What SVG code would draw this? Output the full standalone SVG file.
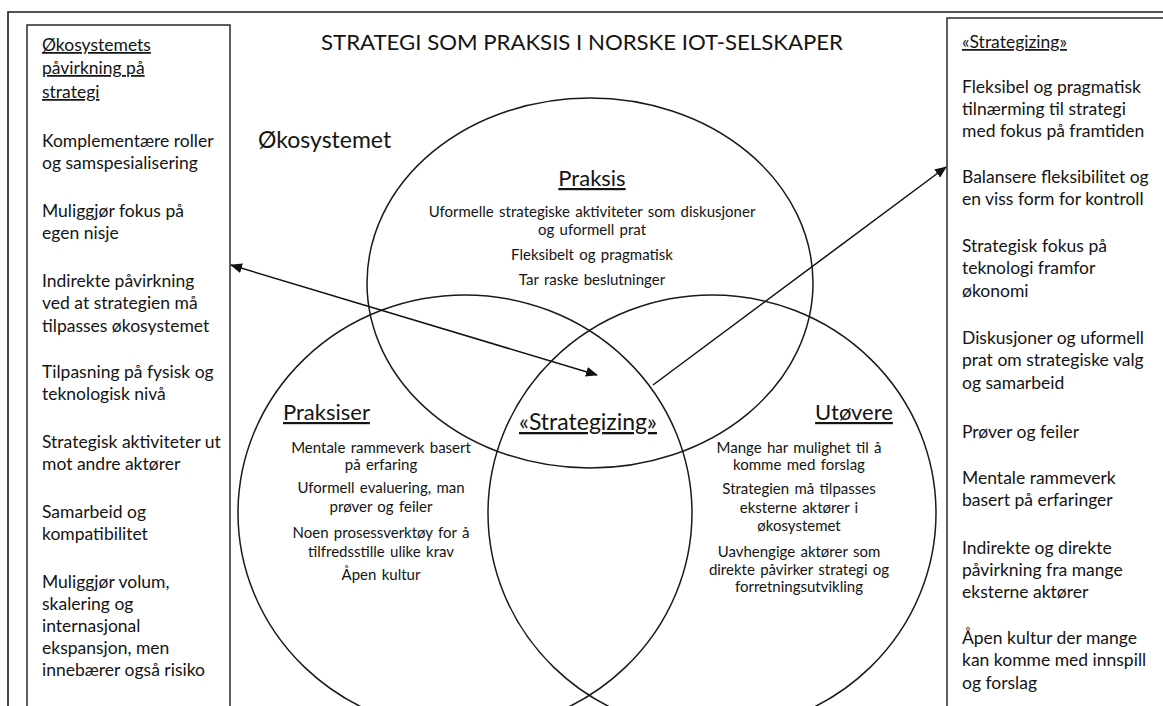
<svg xmlns="http://www.w3.org/2000/svg" width="1163" height="706" viewBox="0 0 1163 706">
<style>
text{font-family:Lato,"Liberation Sans",sans-serif;fill:#141414}
.frame{fill:none;stroke:#1a1a1a;stroke-width:1.6}
.box{fill:none;stroke:#1a1a1a;stroke-width:1.4}
.circ{fill:none;stroke:#1a1a1a;stroke-width:1.5}
.bt{font-size:17.5px}
.ct{font-size:15px;text-anchor:middle;word-spacing:1.5px}
.hd{font-size:22px;text-decoration:underline}
.u{text-decoration:underline}
.conn{stroke:#111;stroke-width:1.5;fill:none}
</style>
<defs>
<marker id="ah" viewBox="0 0 12 10" refX="11" refY="5" markerWidth="12" markerHeight="10" markerUnits="userSpaceOnUse" orient="auto-start-reverse">
<path d="M0,0 L12,5 L0,10 z" fill="#111"/>
</marker>
</defs>
<rect width="1163" height="706" fill="#fff"/>
<path class="frame" d="M8,720 L8,12 L1175,12"/>

<text x="582" y="50" font-size="21" text-anchor="middle" textLength="522" lengthAdjust="spacingAndGlyphs">STRATEGI SOM PRAKSIS I NORSKE IOT-SELSKAPER</text>
<text x="258" y="148" font-size="23">Økosystemet</text>

<g id="left-box">
<rect class="box" x="27" y="25" width="203" height="700"/>
<text class="bt u" x="42" y="51">Økosystemets</text>
<text class="bt u" x="42" y="74">påvirkning på</text>
<text class="bt u" x="42" y="98">strategi</text>
<text class="bt" x="42" y="147">Komplementære roller</text>
<text class="bt" x="42" y="169">og samspesialisering</text>
<text class="bt" x="42" y="217">Muliggjør fokus på</text>
<text class="bt" x="42" y="239">egen nisje</text>
<text class="bt" x="42" y="287">Indirekte påvirkning</text>
<text class="bt" x="42" y="309">ved at strategien må</text>
<text class="bt" x="42" y="332">tilpasses økosystemet</text>
<text class="bt" x="42" y="378">Tilpasning på fysisk og</text>
<text class="bt" x="42" y="400">teknologisk nivå</text>
<text class="bt" x="42" y="448">Strategisk aktiviteter ut</text>
<text class="bt" x="42" y="470">mot andre aktører</text>
<text class="bt" x="42" y="518">Samarbeid og</text>
<text class="bt" x="42" y="540">kompatibilitet</text>
<text class="bt" x="42" y="588">Muliggjør volum,</text>
<text class="bt" x="42" y="610">skalering og</text>
<text class="bt" x="42" y="632">internasjonal</text>
<text class="bt" x="42" y="654">ekspansjon, men</text>
<text class="bt" x="42" y="676">innebærer også risiko</text>
</g>

<g id="right-box">
<rect class="box" x="947" y="18" width="240" height="710"/>
<text class="bt u" x="962" y="48">«Strategizing»</text>
<text class="bt" x="962" y="93">Fleksibel og pragmatisk</text>
<text class="bt" x="962" y="115">tilnærming til strategi</text>
<text class="bt" x="962" y="137">med fokus på framtiden</text>
<text class="bt" x="962" y="183">Balansere fleksibilitet og</text>
<text class="bt" x="962" y="205">en viss form for kontroll</text>
<text class="bt" x="962" y="252">Strategisk fokus på</text>
<text class="bt" x="962" y="274">teknologi framfor</text>
<text class="bt" x="962" y="297">økonomi</text>
<text class="bt" x="962" y="344">Diskusjoner og uformell</text>
<text class="bt" x="962" y="366">prat om strategiske valg</text>
<text class="bt" x="962" y="389">og samarbeid</text>
<text class="bt" x="962" y="438">Prøver og feiler</text>
<text class="bt" x="962" y="484">Mentale rammeverk</text>
<text class="bt" x="962" y="506">basert på erfaringer</text>
<text class="bt" x="962" y="554">Indirekte og direkte</text>
<text class="bt" x="962" y="576">påvirkning fra mange</text>
<text class="bt" x="962" y="598">eksterne aktører</text>
<text class="bt" x="962" y="644">Åpen kultur der mange</text>
<text class="bt" x="962" y="666">kan komme med innspill</text>
<text class="bt" x="962" y="689">og forslag</text>
</g>

<g id="praksis">
<ellipse class="circ" cx="590" cy="283" rx="223" ry="185"/>
<text class="hd" x="592" y="186" text-anchor="middle">Praksis</text>
<text class="ct" x="592" y="217">Uformelle strategiske aktiviteter som diskusjoner</text>
<text class="ct" x="592" y="235">og uformell prat</text>
<text class="ct" x="592" y="260">Fleksibelt og pragmatisk</text>
<text class="ct" x="592" y="285">Tar raske beslutninger</text>
</g>

<g id="praksiser">
<ellipse class="circ" cx="465" cy="513" rx="227" ry="218"/>
<text class="hd" x="283" y="420">Praksiser</text>
<text class="ct" x="381" y="453">Mentale rammeverk basert</text>
<text class="ct" x="381" y="470">på erfaring</text>
<text class="ct" x="381" y="493">Uformell evaluering, man</text>
<text class="ct" x="381" y="512">prøver og feiler</text>
<text class="ct" x="381" y="538">Noen prosessverktøy for å</text>
<text class="ct" x="381" y="557">tilfredsstille ulike krav</text>
<text class="ct" x="381" y="580">Åpen kultur</text>
</g>

<g id="utovere">
<ellipse class="circ" cx="712" cy="513" rx="224" ry="218"/>
<text class="hd" x="854" y="420" text-anchor="middle">Utøvere</text>
<text class="ct" x="799" y="453">Mange har mulighet til å</text>
<text class="ct" x="799" y="470">komme med forslag</text>
<text class="ct" x="799" y="494">Strategien må tilpasses</text>
<text class="ct" x="799" y="513">eksterne aktører i</text>
<text class="ct" x="799" y="531">økosystemet</text>
<text class="ct" x="799" y="557">Uavhengige aktører som</text>
<text class="ct" x="799" y="575">direkte påvirker strategi og</text>
<text class="ct" x="799" y="592">forretningsutvikling</text>
</g>

<g id="strategizing">
<text x="588" y="430" font-size="23" text-anchor="middle" text-decoration="underline">«Strategizing»</text>
</g>

<g id="connectors">
<line class="conn" x1="231" y1="265" x2="597" y2="375" marker-start="url(#ah)" marker-end="url(#ah)"/>
<line class="conn" x1="653" y1="385" x2="946" y2="167" marker-end="url(#ah)"/>
</g>
</svg>
